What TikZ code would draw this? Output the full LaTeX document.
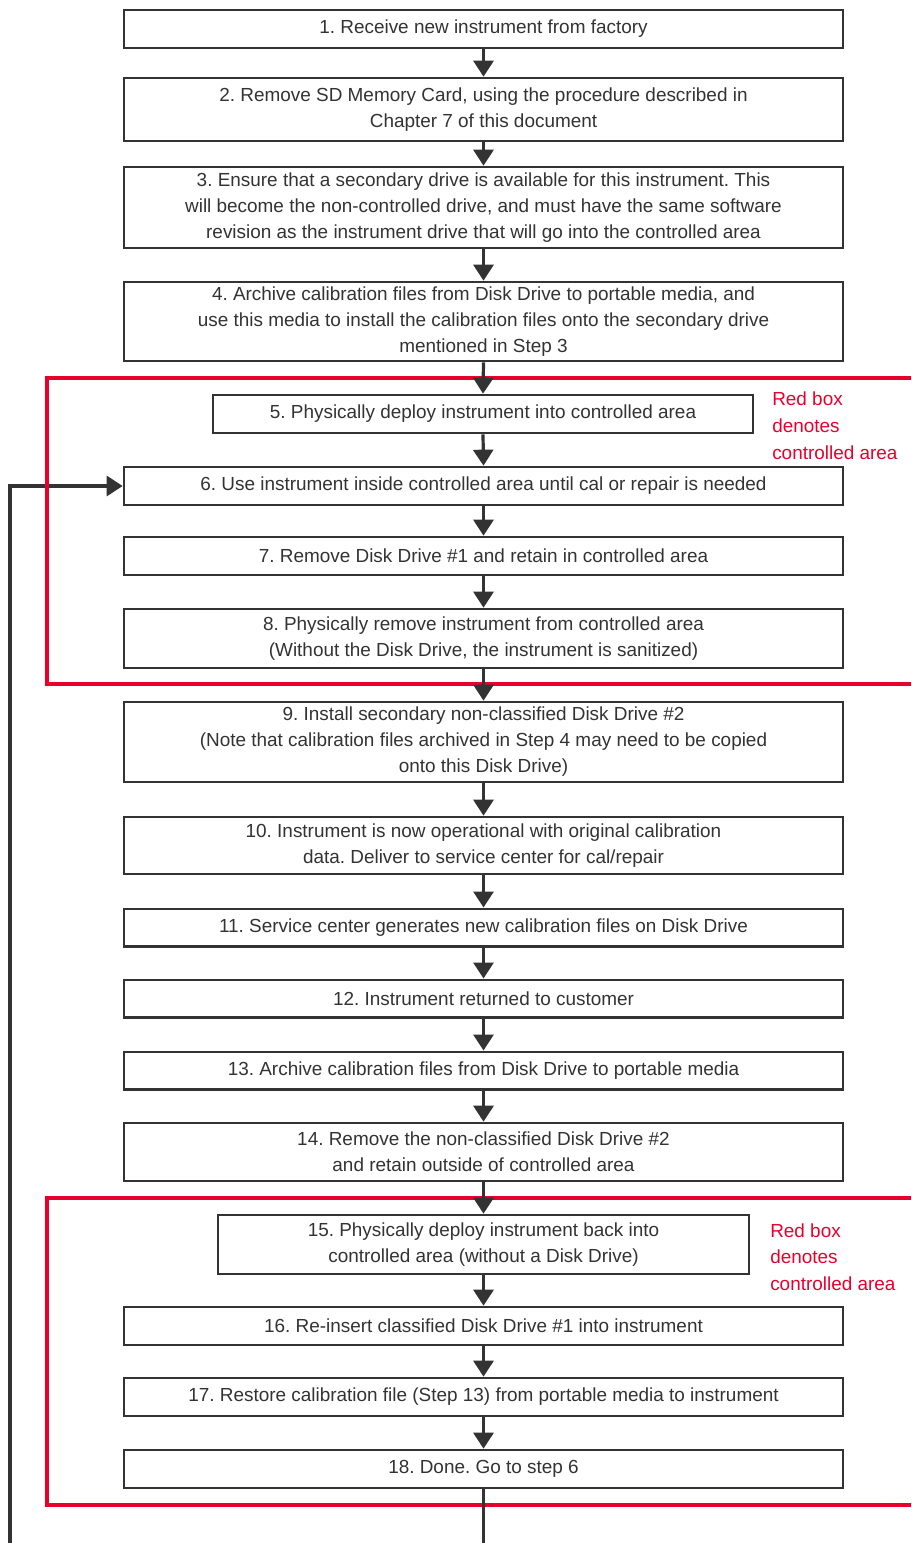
\documentclass[tikz,border=0pt]{standalone}
\usepackage{fontspec}
\setmainfont{Liberation Sans}
\usetikzlibrary{arrows.meta}
\definecolor{ink}{RGB}{51,51,51}
\definecolor{ctrlred}{RGB}{232,0,45}
\tikzset{
  stepbox/.style={draw=ink, line width=2pt, fill=white, inner sep=0pt, align=center,
    text=ink, font=\fontsize{14.2}{19.5}\selectfont},
  wide/.style={minimum width=539.25pt},
  link/.style={draw=ink, line width=2.4pt, -{Triangle[length=12pt,width=15pt]}},
  plainlink/.style={draw=ink, line width=2.4pt},
  redframe/.style={draw=ctrlred, line width=3pt},
  redtxt/.style={text=ctrlred, align=left, inner sep=0pt, font=\fontsize{14.2}{19.9}\selectfont}
}
\begin{document}
\frenchspacing
\begin{tikzpicture}[x=0.75pt,y=-0.75pt]
\useasboundingbox (0,0) rectangle (911,1543);
% boxes
\node[stepbox,wide,minimum height=28.5pt] (b1) at (483.5,29) {1. Receive new instrument from factory};
\node[stepbox,wide,minimum height=47.25pt] (b2) at (483.5,109.5) {2. Remove SD Memory Card, using the procedure described in\\Chapter 7 of this document};
\node[stepbox,wide,minimum height=60.75pt] (b3) at (483.5,207.5) {3. Ensure that a secondary drive is available for this instrument. This\\will become the non-controlled drive, and must have the same software\\revision as the instrument drive that will go into the controlled area};
\node[stepbox,wide,minimum height=59.25pt] (b4) at (483.5,321.5) {4. Archive calibration files from Disk Drive to portable media, and\\use this media to install the calibration files onto the secondary drive\\mentioned in Step 3};
\node[stepbox,minimum width=405pt,minimum height=28.5pt] (b5) at (483,414) {5. Physically deploy instrument into controlled area};
\node[stepbox,wide,minimum height=28.5pt] (b6) at (483.5,486) {6. Use instrument inside controlled area until cal or repair is needed};
\node[stepbox,wide,minimum height=28.5pt] (b7) at (483.5,556) {7. Remove Disk Drive \#1 and retain in controlled area};
\node[stepbox,wide,minimum height=44.25pt] (b8) at (483.5,638.5) {8. Physically remove instrument from controlled area\\(Without the Disk Drive, the instrument is sanitized)};
\node[stepbox,wide,minimum height=60pt] (b9) at (483.5,742) {9. Install secondary non-classified Disk Drive \#2\\(Note that calibration files archived in Step 4 may need to be copied\\onto this Disk Drive)};
\node[stepbox,wide,minimum height=42.75pt] (b10) at (483.5,845.5) {10. Instrument is now operational with original calibration\\data. Deliver to service center for cal/repair};
\node[stepbox,wide,minimum height=28pt] (b11) at (483.5,927.5) {11. Service center generates new calibration files on Disk Drive};
\node[stepbox,wide,minimum height=28pt] (b12) at (483.5,998.5) {12. Instrument returned to customer};
\node[stepbox,wide,minimum height=28pt] (b13) at (483.5,1070.5) {13. Archive calibration files from Disk Drive to portable media};
\node[stepbox,wide,minimum height=43.5pt] (b14) at (483.5,1152) {14. Remove the non-classified Disk Drive \#2\\and retain outside of controlled area};
\node[stepbox,minimum width=398.25pt,minimum height=44.25pt] (b15) at (483.5,1244.5) {15. Physically deploy instrument back into\\controlled area (without a Disk Drive)};
\node[stepbox,wide,minimum height=28.5pt] (b16) at (483.5,1326) {16. Re-insert classified Disk Drive \#1 into instrument};
\node[stepbox,wide,minimum height=28.5pt] (b17) at (483.5,1397) {17. Restore calibration file (Step 13) from portable media to instrument};
\node[stepbox,wide,minimum height=28.5pt] (b18) at (483.5,1469) {18. Done. Go to step 6};
% loop back and exit
\coordinate (loopstart) at (10,1543);
\coordinate (exitend) at (483.5,1543);
\draw[link] (loopstart) |- (b6.west);
% controlled areas
\draw[redframe] (911,378) -- (47,378) -- (47,684) -- (911,684);
\draw[redframe] (911,1198) -- (47,1198) -- (47,1505) -- (911,1505);
\node[redtxt,anchor=north west] (note1) at (772,392) {Red box\\denotes\\controlled area};
\node[redtxt,anchor=north west] (note2) at (770,1223) {Red box\\denotes\\controlled area};
% flow
\foreach \a/\b in {b1/b2,b2/b3,b3/b4,b4/b5,b5/b6,b6/b7,b7/b8,b8/b9,b9/b10,b10/b11,b11/b12,b12/b13,b13/b14,b14/b15,b15/b16,b16/b17,b17/b18}
  \draw[link] (\a.south) -- (\b.north);
\draw[plainlink] (b18.south) -- (exitend);
\end{tikzpicture}
\end{document}
